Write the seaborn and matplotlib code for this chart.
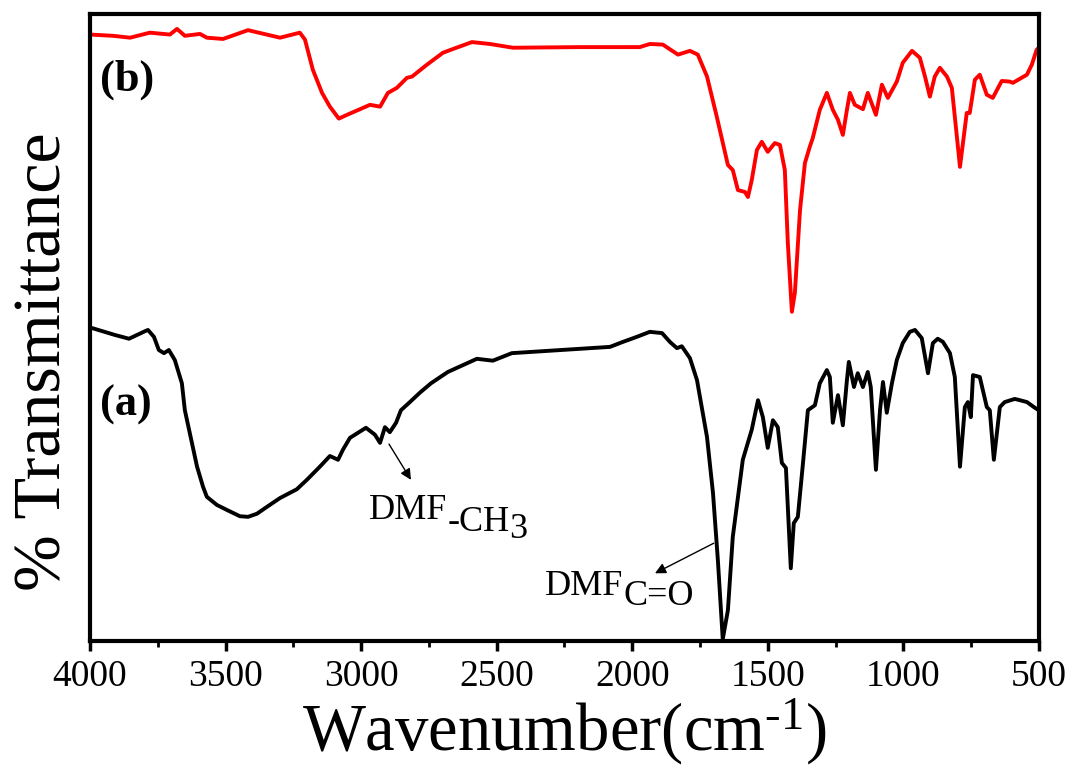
import matplotlib
matplotlib.use("Agg")
import matplotlib.pyplot as plt
import seaborn as sns
import pandas as pd

# ---- data (transmittance in arbitrary %) ----
wn_a = [4000, 3908, 3856, 3797, 3786, 3764, 3746, 3727, 3709, 3687, 3661, 3650,
        3624, 3605, 3583, 3569, 3532, 3495, 3447, 3417, 3384, 3347, 3299, 3237,
        3200, 3152, 3115, 3085, 3067, 3041, 2982, 2949, 2930, 2912, 2894, 2871,
        2853, 2820, 2783, 2742, 2680, 2573, 2514, 2444, 2082, 2034, 1983, 1935,
        1890, 1861, 1835, 1817, 1787, 1761, 1724, 1702, 1684, 1666, 1647, 1629,
        1592, 1559, 1536, 1518, 1500, 1481, 1463, 1448, 1433, 1415, 1404, 1389,
        1370, 1352, 1326, 1308, 1282, 1271, 1260, 1241, 1223, 1208, 1201, 1182,
        1168, 1149, 1131, 1120, 1101, 1086, 1075, 1061, 1042, 1024, 1002, 976,
        957, 932, 909, 891, 873, 854, 828, 810, 791, 773, 762, 751, 743, 718, 692,
        681, 666, 644, 626, 589, 570, 544, 515, 500]
t_a = [50.0, 48.8, 48.2, 49.4, 49.6, 48.5, 46.4, 45.9, 46.4, 44.8, 41.1, 36.8,
       31.6, 27.8, 24.6, 23.0, 21.7, 20.9, 19.9, 19.8, 20.3, 21.4, 22.8, 24.2,
       25.7, 27.8, 29.5, 28.9, 30.5, 32.4, 34.0, 32.9, 31.6, 34.1, 33.3, 34.8,
       36.8, 38.1, 39.6, 41.1, 42.9, 45.0, 44.7, 45.9, 46.9, 47.7, 48.5, 49.3,
       49.1, 47.7, 46.7, 47.0, 45.1, 41.6, 32.5, 23.6, 12.9, 0.3, 4.9, 16.6,
       28.9, 33.7, 38.4, 35.7, 30.8, 35.2, 34.1, 28.4, 27.6, 11.6, 18.8, 19.8,
       28.4, 36.8, 37.6, 41.1, 43.2, 42.1, 34.8, 39.2, 34.4, 41.6, 44.5, 40.5,
       42.7, 40.5, 42.9, 40.5, 27.3, 36.8, 41.3, 36.4, 41.1, 44.8, 47.5, 49.3,
       49.6, 48.3, 42.7, 47.5, 48.2, 47.7, 45.9, 42.1, 27.8, 37.3, 38.1, 35.7,
       42.4, 42.1, 37.3, 36.8, 28.9, 37.3, 38.1, 38.6, 38.4, 38.1, 37.2, 36.8]

wn_b = [4000, 3915, 3852, 3779, 3705, 3679, 3650, 3594, 3569, 3509, 3417, 3299,
        3226, 3207, 3178, 3144, 3115, 3082, 3052, 3004, 2967, 2930, 2901, 2868,
        2831, 2812, 2757, 2698, 2661, 2591, 2525, 2440, 2193, 1972, 1935, 1887,
        1831, 1787, 1758, 1724, 1688, 1647, 1629, 1610, 1584, 1573, 1559, 1540,
        1522, 1500, 1474, 1455, 1437, 1426, 1411, 1400, 1381, 1363, 1345, 1334,
        1308, 1282, 1260, 1241, 1223, 1208, 1197, 1179, 1149, 1131, 1101, 1079,
        1057, 1024, 1002, 968, 939, 920, 902, 884, 865, 839, 821, 810, 791, 780,
        766, 755, 736, 718, 692, 670, 637, 607, 596, 544, 526, 508, 500]
t_b = [96.7, 96.5, 96.2, 97.0, 96.7, 97.6, 96.5, 96.8, 96.2, 96.0, 97.4, 96.2,
       97.0, 95.9, 91.1, 87.4, 85.2, 83.3, 83.9, 84.8, 85.5, 85.2, 87.4, 88.2,
       89.8, 90.0, 91.9, 93.8, 94.4, 95.5, 95.2, 94.6, 94.7, 94.7, 95.2, 95.1,
       93.5, 94.1, 93.5, 90.0, 83.6, 75.9, 75.1, 71.9, 71.6, 70.8, 73.5, 78.3,
       79.6, 78.0, 79.4, 79.1, 75.1, 63.5, 52.5, 55.5, 68.7, 76.2, 78.8, 80.2,
       84.7, 87.4, 84.7, 83.1, 80.7, 84.7, 87.4, 85.5, 84.8, 87.4, 83.9, 88.7,
       86.6, 89.2, 92.2, 94.1, 93.0, 90.0, 86.8, 90.0, 91.4, 90.0, 88.2, 83.6,
       75.6, 79.4, 84.2, 84.2, 89.5, 90.3, 87.1, 86.6, 89.3, 89.2, 89.0, 90.3,
       91.9, 94.3, 94.6]

x_ticks = [4000, 3500, 3000, 2500, 2000, 1500, 1000, 500]

df = pd.concat([
    pd.DataFrame({"wavenumber": wn_a, "T": t_a, "sample": "a"}),
    pd.DataFrame({"wavenumber": wn_b, "T": t_b, "sample": "b"}),
])

sns.set_style("ticks", {"text.color": "black", "axes.labelcolor": "black",
                        "xtick.color": "black", "axes.edgecolor": "black"})
plt.rcParams['font.family'] = ['Liberation Serif', 'DejaVu Serif']
plt.rcParams['mathtext.fontset'] = 'custom'
plt.rcParams['mathtext.rm'] = 'Liberation Serif'
plt.rcParams['mathtext.it'] = 'Liberation Serif:italic'

fig, ax = plt.subplots(figsize=(10.71, 7.7), dpi=100)
fig.subplots_adjust(left=0.084, right=0.970, bottom=0.1675, top=0.982)

sns.lineplot(data=df, x="wavenumber", y="T", hue="sample",
             palette={"a": "black", "b": "#ff0000"}, linewidth=2.8,
             estimator=None, legend=False, ax=ax,
             solid_joinstyle='round', solid_capstyle='round')

ax.set_xlim(4000, 500)
ax.set_ylim(0, 100)
ax.set_xticks(x_ticks)
ax.set_xticklabels([str(t) for t in x_ticks])
ax.set_xticks([3750, 3250, 2750, 2250, 1750, 1250, 750], minor=True)
ax.set_yticks([])

for s in ax.spines.values():
    s.set_visible(True)
    s.set_linewidth(3)
    s.set_color('black')

ax.tick_params(axis='x', which='major', direction='out', length=7, width=2.5,
               labelsize=27, pad=6, colors='black')
ax.tick_params(axis='x', which='minor', direction='out', length=4, width=2)

ax.set_xlabel("Wavenumber(cm$^{\\mathregular{\u2010}1}$)", fontsize=48, labelpad=2)
ax.set_ylabel("% Transmittance", fontsize=49)
ax.yaxis.set_label_coords(-0.016, 0.445)

# sample labels
ax.text(3963, 89.5, "(b)", fontsize=32, fontweight='bold', ha='left', va='center')
ax.text(3963, 37.6, "(a)", fontsize=32, fontweight='bold', ha='left', va='center')

# DMF -CH3 annotation
t1 = ax.text(2971, 19.5, "DMF", fontsize=26, ha='left', va='baseline')
t2 = ax.annotate("-CH", xy=(1, 0), xycoords=t1, xytext=(0, -9),
                 textcoords='offset points', fontsize=26, ha='left', va='bottom')
ax.annotate("3", xy=(1, 0), xycoords=t2, xytext=(0, -5),
            textcoords='offset points', fontsize=26, ha='left', va='bottom')
ax.annotate("", xy=(2816, 25.7), xytext=(2897, 31.4),
            arrowprops=dict(arrowstyle='-|>', color='black', lw=1,
                            mutation_scale=16, shrinkA=0, shrinkB=0))

# DMF C=O annotation
t3 = ax.text(2322, 7.3, "DMF", fontsize=26, ha='left', va='baseline')
ax.annotate("C=O", xy=(1, 0), xycoords=t3, xytext=(0, -7),
            textcoords='offset points', fontsize=26, ha='left', va='bottom')
ax.annotate("", xy=(1916, 10.8), xytext=(1699, 15.6),
            arrowprops=dict(arrowstyle='-|>', color='black', lw=1,
                            mutation_scale=16, shrinkA=0, shrinkB=0))

plt.savefig("out.png", dpi=100)
